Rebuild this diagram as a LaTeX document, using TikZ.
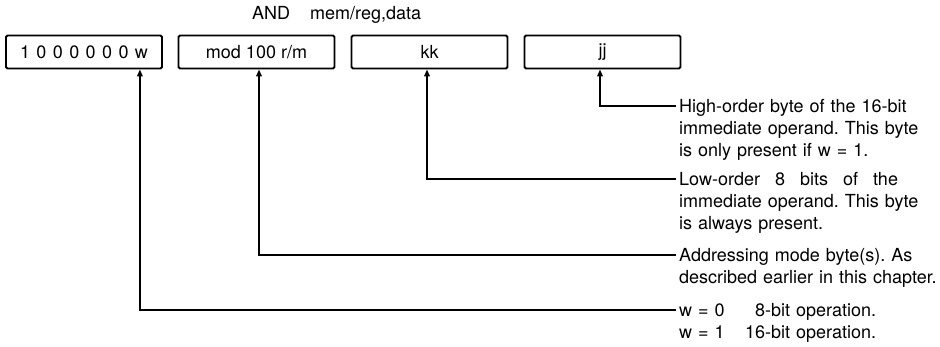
\documentclass[tikz,border=0pt]{standalone}
\usepackage{fontspec}
\setmainfont{TeX Gyre Heros}
\usetikzlibrary{arrows.meta}
\newcommand{\txtfont}{\fontsize{18}{22}\selectfont\frenchspacing}
\newcommand{\dgap}{\hspace{6.4pt}}
\newcommand{\wgap}{\hspace{15pt}}
\tikzset{
  field/.style={draw, line width=1.8pt, rounded corners=1.5pt, minimum width=156pt,
               minimum height=33pt, inner sep=0pt, font=\txtfont},
  desc/.style={anchor=base west, inner sep=0pt, text width=262pt, align=left, font=\txtfont},
  lead/.style={-{Triangle[length=7pt,width=5.5pt]}, line width=1.8pt},
  title/.style={anchor=base west, inner sep=0pt, font=\txtfont},
}
\def\cA{84}
\def\cB{256.5}
\def\cC{429.5}
\def\cD{602.5}
\def\yF{52}
\def\xT{679}
\begin{document}
\begin{tikzpicture}[x=1pt,y=-1pt]
  \useasboundingbox (0,0) rectangle (940,346);
  \node[title] (instr) at (252,19.5) {\makebox[58pt][l]{AND}mem/reg,data};
  \node[field] (op) at (\cA,\yF) {1\dgap0\dgap0\dgap0\dgap0\dgap0\dgap0\dgap w};
  \node[field] (mod) at (\cB,\yF) {mod 100 r/m};
  \node[field] (kk) at (\cC,\yF) {kk};
  \node[field] (jj) at (\cD,\yF) {jj};
  \node[desc] (hi) at (\xT,112.5) {High-order byte of the 16-bit\\immediate operand. This byte\\is only present if w = 1.};
  \node[desc] (lo) at (\xT,185.5) {Low-order\wgap 8\wgap bits\wgap of\wgap the\\immediate operand. This byte\\is always present.};
  \node[desc] (mode) at (\xT,261.5) {Addressing mode byte(s). As\\described earlier in this chapter.};
  \node[desc] (wbit) at (\xT,316.5) {\makebox[66pt][l]{w = 0}\phantom{1}8-bit operation.\\\makebox[66pt][l]{w = 1}16-bit operation.};
  \draw[lead] ([shift={(-3pt,6.5pt)}]hi.base west) -| ([xshift=-2.5pt]jj.south);
  \draw[lead] ([shift={(-3pt,6.5pt)}]lo.base west) -| ([xshift=-2.5pt]kk.south);
  \draw[lead] ([shift={(-3pt,6.5pt)}]mode.base west) -| ([xshift=2.5pt]mod.south);
  \draw[lead] ([shift={(-3pt,6.5pt)}]wbit.base west) -| ([xshift=-23pt]op.south east);
\end{tikzpicture}
\end{document}
